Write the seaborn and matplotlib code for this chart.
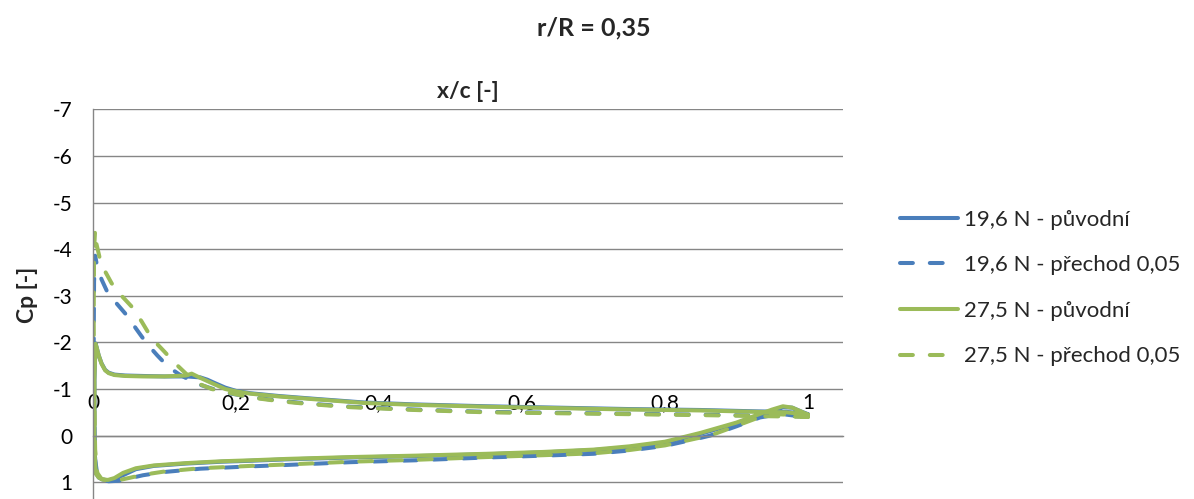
import numpy as np
import pandas as pd
import seaborn as sns
import matplotlib
matplotlib.use("Agg")
import matplotlib.pyplot as plt

# --- data (Cp along the chord, TE -> upper -> LE -> lower -> TE) ---
series_names = ["19,6 N - původní", "19,6 N - přechod 0,05",
                "27,5 N - původní", "27,5 N - přechod 0,05"]

blue_solid_x = [1.0, 0.97, 0.93, 0.85, 0.75, 0.65, 0.55, 0.45, 0.38, 0.31, 0.26, 0.22, 0.2,
                0.185, 0.17, 0.16, 0.15, 0.13, 0.1, 0.07, 0.045, 0.03, 0.022, 0.017, 0.012,
                0.008, 0.005, 0.0035, 0.002, 0.002, 0.004, 0.008, 0.013, 0.021, 0.03, 0.042,
                0.06, 0.085, 0.13, 0.18, 0.22, 0.27, 0.36, 0.45, 0.55, 0.63, 0.7, 0.75, 0.8,
                0.85, 0.9, 0.93, 0.95, 0.965, 0.978, 0.99, 1.0]
blue_solid_cp = [-0.46, -0.51, -0.52, -0.55, -0.57, -0.6, -0.63, -0.67, -0.71, -0.79, -0.85,
                 -0.91, -0.96, -1.03, -1.13, -1.2, -1.25, -1.27, -1.27, -1.28, -1.29, -1.31,
                 -1.35, -1.41, -1.55, -1.72, -1.9, -1.98, -1.2, 0.3, 0.8, 0.9, 0.94, 0.96, 0.93,
                 0.85, 0.72, 0.65, 0.6, 0.56, 0.54, 0.51, 0.47, 0.44, 0.4, 0.36, 0.31, 0.25,
                 0.15, -0.04, -0.26, -0.43, -0.54, -0.61, -0.6, -0.52, -0.46]

blue_dash_x = [1.0, 0.97, 0.93, 0.85, 0.75, 0.65, 0.55, 0.45, 0.36, 0.3, 0.26, 0.22, 0.19,
               0.166, 0.15, 0.138, 0.12, 0.105, 0.09, 0.075, 0.06, 0.049, 0.035, 0.021, 0.012,
               0.006, 0.003, 0.0015, 0.001, 0.0015, 0.003, 0.006, 0.012, 0.022, 0.035, 0.05,
               0.07, 0.1, 0.15, 0.22, 0.27, 0.36, 0.45, 0.55, 0.63, 0.7, 0.75, 0.8, 0.844,
               0.863, 0.9, 0.933, 0.955, 0.97, 0.985, 1.0]
blue_dash_cp = [-0.41, -0.42, -0.43, -0.45, -0.47, -0.49, -0.51, -0.56, -0.62, -0.69, -0.75,
                -0.83, -0.91, -1.01, -1.09, -1.17, -1.32, -1.48, -1.72, -1.98, -2.3, -2.55,
                -2.8, -3.05, -3.35, -3.62, -3.86, -3.3, -2.0, -0.5, 0.5, 0.85, 0.95, 0.98,
                0.97, 0.92, 0.85, 0.78, 0.71, 0.66, 0.63, 0.57, 0.53, 0.47, 0.43, 0.39, 0.32,
                0.22, 0.07, 0.0, -0.2, -0.39, -0.45, -0.45, -0.42, -0.41]

green_solid_x = [1.0, 0.97, 0.93, 0.85, 0.75, 0.65, 0.55, 0.45, 0.38, 0.31, 0.26, 0.22, 0.2,
                 0.185, 0.17, 0.16, 0.15, 0.138, 0.13, 0.1, 0.07, 0.045, 0.03, 0.022, 0.017,
                 0.012, 0.008, 0.005, 0.0035, 0.002, 0.002, 0.004, 0.008, 0.013, 0.021, 0.03,
                 0.042, 0.06, 0.085, 0.13, 0.18, 0.22, 0.27, 0.36, 0.45, 0.55, 0.63, 0.7,
                 0.75, 0.8, 0.85, 0.9, 0.93, 0.95, 0.965, 0.978, 0.99, 1.0]
green_solid_cp = [-0.45, -0.5, -0.51, -0.54, -0.56, -0.59, -0.62, -0.66, -0.7, -0.78, -0.84,
                  -0.9, -0.95, -1.0, -1.1, -1.17, -1.24, -1.33, -1.29, -1.27, -1.27, -1.28,
                  -1.3, -1.34, -1.4, -1.54, -1.72, -1.9, -1.97, -1.2, 0.3, 0.82, 0.9, 0.94,
                  0.95, 0.91, 0.8, 0.7, 0.64, 0.59, 0.55, 0.53, 0.5, 0.46, 0.43, 0.39, 0.35,
                  0.3, 0.23, 0.13, -0.06, -0.28, -0.45, -0.56, -0.63, -0.6, -0.52, -0.45]

green_dash_x = [1.0, 0.97, 0.93, 0.85, 0.75, 0.65, 0.55, 0.45, 0.36, 0.3, 0.26, 0.22, 0.19,
                0.166, 0.147, 0.13, 0.115, 0.1, 0.082, 0.068, 0.054, 0.04, 0.026, 0.016, 0.01,
                0.005, 0.003, 0.0015, 0.001, 0.0015, 0.003, 0.006, 0.012, 0.022, 0.035, 0.05,
                0.07, 0.1, 0.15, 0.22, 0.27, 0.36, 0.45, 0.55, 0.63, 0.7, 0.75, 0.8, 0.844,
                0.863, 0.9, 0.933, 0.955, 0.97, 0.985, 1.0]
green_dash_cp = [-0.4, -0.41, -0.42, -0.44, -0.46, -0.48, -0.5, -0.55, -0.61, -0.68, -0.74,
                 -0.82, -0.92, -1.0, -1.12, -1.33, -1.55, -1.8, -2.09, -2.45, -2.77, -3.0,
                 -3.27, -3.55, -3.77, -4.1, -4.41, -4.0, -2.5, -1.0, 0.3, 0.8, 0.93, 0.97,
                 0.96, 0.91, 0.84, 0.77, 0.7, 0.65, 0.62, 0.56, 0.52, 0.46, 0.42, 0.38, 0.31,
                 0.21, 0.06, 0.0, -0.21, -0.4, -0.46, -0.45, -0.42, -0.4]

x_ticks = [0, 0.2, 0.4, 0.6, 0.8, 1.0]
x_tick_labels = ["0", "0,2", "0,4", "0,6", "0,8", "1"]
y_ticks = [-7, -6, -5, -4, -3, -2, -1, 0, 1]

# dlouhy format pro seaborn, poradi bodu zachovane
frames = []
for name, xs, cps in zip(series_names,
                         [blue_solid_x, blue_dash_x, green_solid_x, green_dash_x],
                         [blue_solid_cp, blue_dash_cp, green_solid_cp, green_dash_cp]):
    frames.append(pd.DataFrame({"x": xs, "cp": cps, "series": name}))
df = pd.concat(frames, ignore_index=True)

blue = "#4A7EBB"
green = "#9BBB59"
palette = {series_names[0]: blue, series_names[1]: blue,
           series_names[2]: green, series_names[3]: green}
dashes = {series_names[0]: "", series_names[1]: (3.2, 4.2),
          series_names[2]: "", series_names[3]: (3.2, 4.2)}

sns.set_style("white")
plt.rcParams["font.family"] = ["Lato", "DejaVu Sans"]
plt.rcParams["axes.unicode_minus"] = False

fig = plt.figure(figsize=(11.94, 4.99), dpi=100)
ax = fig.add_axes([93 / 1194, 0.0, 750 / 1194, 1 - 109.4 / 499])

sns.lineplot(data=df, x="x", y="cp", hue="series", style="series", palette=palette,
             dashes=dashes, sort=False, estimator=None, linewidth=2.9,
             dash_capstyle="round", solid_capstyle="round", legend=False, ax=ax)

# osy jako v Excelu: obracena osa y, osa x prochazi nulou, popisky nad ni
ax.set_xlim(0, 1.049)
ax.set_ylim(1.36, -7)
ax.set_xticks(x_ticks)
ax.set_xticklabels(x_tick_labels)
ax.set_yticks(y_ticks)
ax.xaxis.set_ticks_position("top")
ax.spines["top"].set_position(("data", 0))
ax.spines["top"].set_color("#868686")
ax.spines["left"].set_color("#868686")
ax.spines["left"].set_linewidth(1.0)
ax.spines["top"].set_linewidth(1.0)
ax.spines["right"].set_visible(False)
ax.spines["bottom"].set_visible(False)
ax.tick_params(axis="x", length=0, pad=16, labelsize=15, colors="black")
ax.tick_params(axis="y", length=0, pad=15, labelsize=15, colors="black")
ax.yaxis.grid(True, color="#868686", linewidth=1.0)
ax.xaxis.grid(False)
ax.set_xlabel("")
ax.set_ylabel("")

ax.text(0.5, 1.045, "x/c [-]", transform=ax.transAxes, ha="center", va="center",
        fontsize=16.5, fontweight="bold")
fig.text(28 / 1194, 1 - 295 / 499, "Cp [-]", rotation=90, ha="center", va="center",
         fontsize=16.5, fontweight="bold")
fig.text(594 / 1194, 1 - 28 / 499, "r/R = 0,35", ha="center", va="center",
         fontsize=18, fontweight="bold")

fig.legend(handles=ax.lines[:4], labels=series_names, loc="center left",
           bbox_to_anchor=(900 / 1194, 1 - 288 / 499), frameon=False, fontsize=16,
           handlelength=2.6, handletextpad=0.3, labelspacing=1.15, borderpad=0,
           borderaxespad=0)

fig.savefig("out.png", dpi=100)
